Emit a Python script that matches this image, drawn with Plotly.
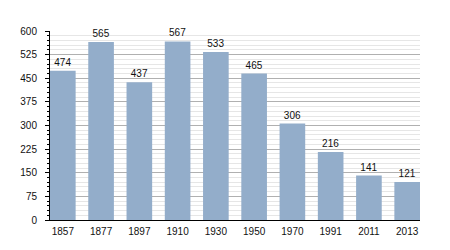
import plotly.graph_objects as go

years = ["1857", "1877", "1897", "1910", "1930", "1950", "1970", "1991", "2011", "2013"]
population = [474, 565, 437, 567, 533, 465, 306, 216, 141, 121]
y_ticks = [0, 75, 150, 225, 300, 375, 450, 525, 600]

fig = go.Figure(go.Bar(
    x=list(range(len(years))), y=population,
    width=0.67,
    marker=dict(color="#93adca", line=dict(width=0)),
    text=[str(v) for v in population], textposition="outside",
    textfont=dict(family="Liberation Sans, Arial", size=10, color="#111"),
    cliponaxis=False,
))

fig.update_layout(
    width=450, height=250,
    margin=dict(l=50, r=30, t=31, b=30),
    paper_bgcolor="white", plot_bgcolor="white",
    showlegend=False,
    font=dict(family="Liberation Sans, Arial", size=10, color="#111"),
    xaxis=dict(
        tickmode="array", tickvals=list(range(len(years))), ticktext=years,
        range=[-0.335, 9.335], showgrid=False, showline=True,
        linecolor="#000", linewidth=1, ticks="", zeroline=False,
        ticklabelstandoff=2,
    ),
    yaxis=dict(
        range=[0, 600], tickmode="array", tickvals=y_ticks,
        showgrid=True, gridcolor="#b0b0b0", gridwidth=1,
        showline=True, linecolor="#000", linewidth=1,
        ticks="outside", ticklen=4, tickcolor="#000", zeroline=False,
        ticklabelstandoff=6,
        minor=dict(dtick=15, tick0=0, ticks="outside", ticklen=2,
                   tickcolor="#000", showgrid=True, gridcolor="#e6e6e6"),
    ),
    bargap=0.3,
)

fig.write_html("out.html")
